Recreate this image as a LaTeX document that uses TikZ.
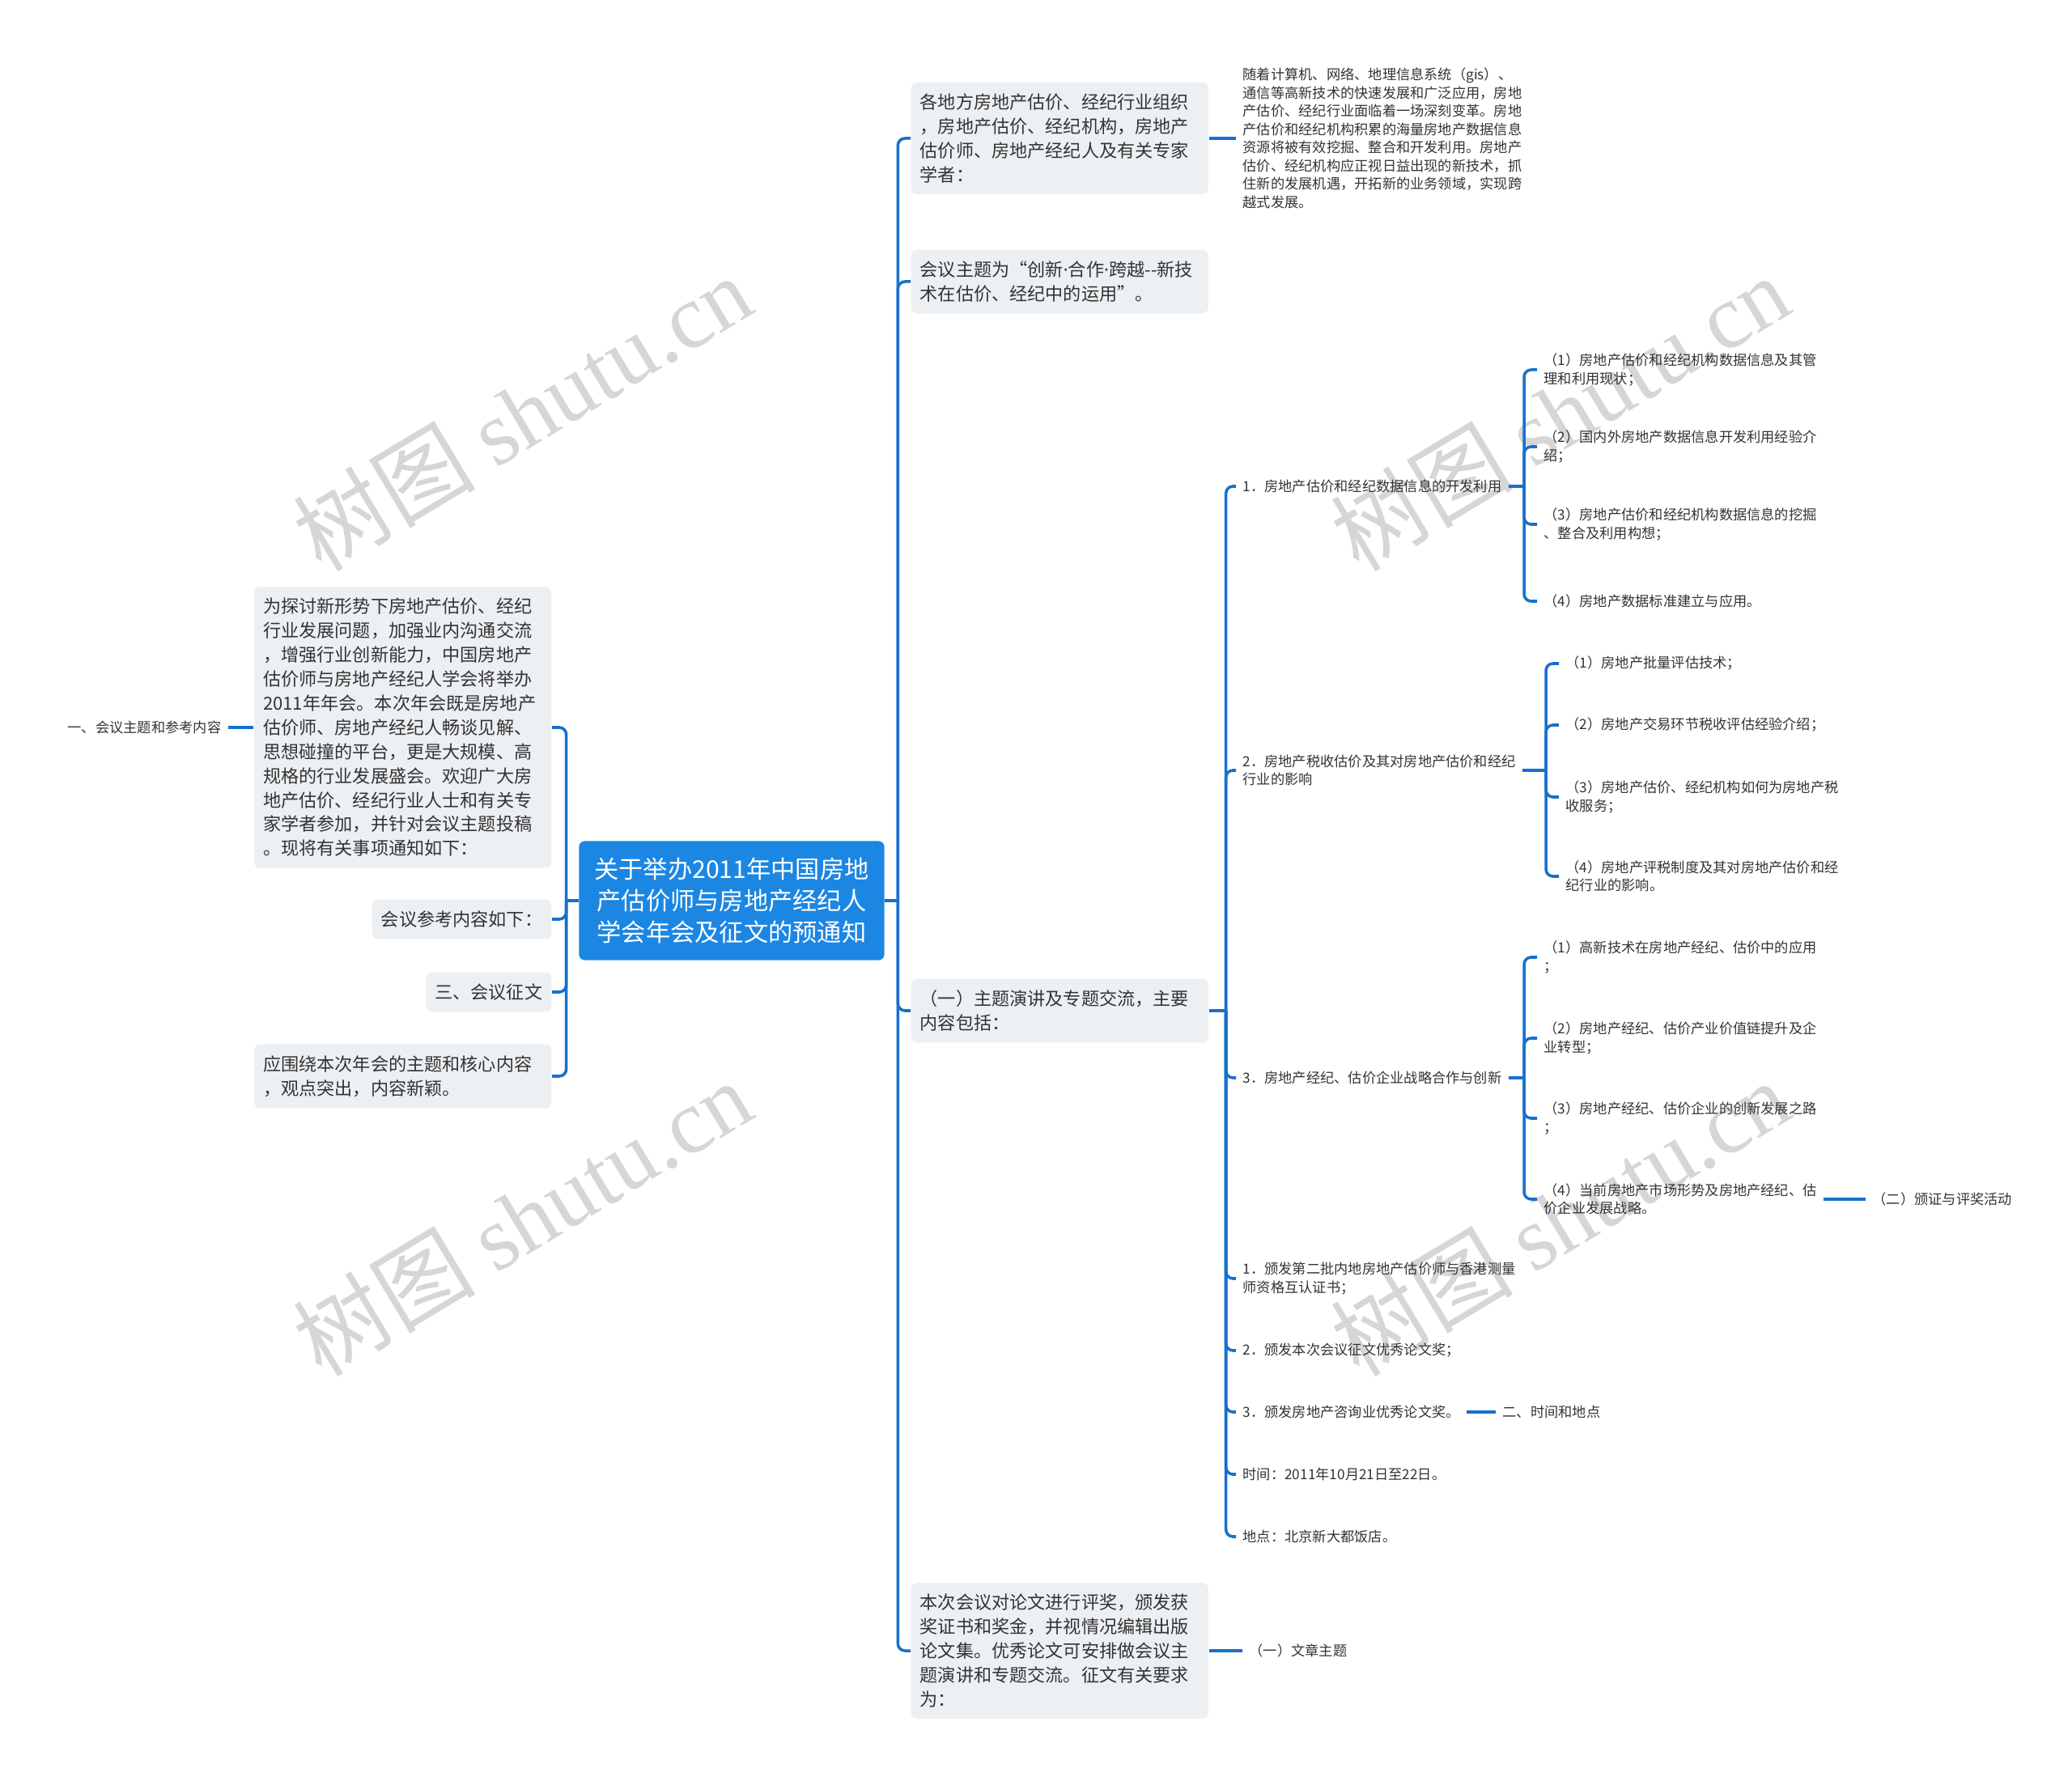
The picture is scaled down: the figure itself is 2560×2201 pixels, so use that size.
\documentclass[tikz,border=0pt]{standalone}
\usepackage{fontspec}
\setmainfont{Noto Sans CJK SC}
\newfontfamily\wmlatin{Liberation Serif}
\newfontfamily\latinsans{Noto Sans}
\definecolor{rootblue}{HTML}{1C86E3}
\definecolor{lineblue}{HTML}{1770CC}
\definecolor{boxgray}{HTML}{EDF0F3}
\definecolor{textgray}{HTML}{333333}
\definecolor{wmgray}{HTML}{D6D6D6}
\newcommand{\middot}{{\latinsans ·}}
\tikzset{
  rootnode/.style={fill=rootblue,text=white,rounded corners=2pt,align=center,
    font=\fontsize{8.6}{11.1}\selectfont,minimum width=3.77cm,minimum height=1.47cm},
  topic/.style={fill=boxgray,text=textgray,rounded corners=2pt,align=left,
    inner xsep=0.11cm,inner ysep=0.14cm,font=\fontsize{6.3}{8.5}\selectfont},
  widetopic/.style={topic,text width=3.45cm},
  leaf/.style={text=textgray,align=left,inner xsep=0.08cm,inner ysep=0.04cm,
    font=\fontsize{4.9}{6.4}\selectfont},
  branch/.style={draw=lineblue,line width=1pt,rounded corners=2.5pt},
  wmark/.style={text=wmgray,rotate=31,font=\fontsize{32}{32}\selectfont}
}

\begin{document}
\begin{tikzpicture}[x=0.01cm,y=-0.01cm]
  \fill[white] (0,0) rectangle (2560,2201);
  \useasboundingbox (0,0) rectangle (2560,2201);
  % watermarks
  \node[wmark] (wm1) at (645,510) {树图 {\wmlatin shutu.cn}};
  \node[wmark] (wm2) at (1927,510) {树图 {\wmlatin shutu.cn}};
  \node[wmark] (wm3) at (645,1505) {树图 {\wmlatin shutu.cn}};
  \node[wmark] (wm4) at (1927,1505) {树图 {\wmlatin shutu.cn}};

  \node[rootnode] (root) at (904,1113) {关于举办2011年中国房地\\产估价师与房地产经纪人\\学会年会及征文的预通知};

  % left side
  \node[widetopic,anchor=east] (ta) at (682,899) {为探讨新形势下房地产估价、经纪\\行业发展问题，加强业内沟通交流\\，增强行业创新能力，中国房地产\\估价师与房地产经纪人学会将举办\\2011年年会。本次年会既是房地产\\估价师、房地产经纪人畅谈见解、\\思想碰撞的平台，更是大规模、高\\规格的行业发展盛会。欢迎广大房\\地产估价、经纪行业人士和有关专\\家学者参加，并针对会议主题投稿\\。现将有关事项通知如下：};
  \node[topic,anchor=east] (tb) at (682,1136) {会议参考内容如下：};
  \node[topic,anchor=east] (tc) at (682,1226) {三、会议征文};
  \node[widetopic,anchor=east] (td) at (682,1330) {应围绕本次年会的主题和核心内容\\，观点突出，内容新颖。};
  \node[leaf,anchor=east] (ll) at (282,899) {一、会议主题和参考内容};

  % right side
  \node[widetopic,anchor=west] (te) at (1125,171) {各地方房地产估价、经纪行业组织\\，房地产估价、经纪机构，房地产\\估价师、房地产经纪人及有关专家\\学者：};
  \node[widetopic,anchor=west] (tf) at (1125,348) {会议主题为“创新\middot 合作\middot 跨越-{}-新技\\术在估价、经纪中的运用”。};
  \node[widetopic,anchor=west] (tg) at (1125,1249) {（一）主题演讲及专题交流，主要\\内容包括：};
  \node[widetopic,anchor=west] (th) at (1125,2040) {本次会议对论文进行评奖，颁发获\\奖证书和奖金，并视情况编辑出版\\论文集。优秀论文可安排做会议主\\题演讲和专题交流。征文有关要求\\为：};
  \node[leaf,anchor=west] (te1) at (1527,171) {随着计算机、网络、地理信息系统（gis）、\\通信等高新技术的快速发展和广泛应用，房地\\产估价、经纪行业面临着一场深刻变革。房地\\产估价和经纪机构积累的海量房地产数据信息\\资源将被有效挖掘、整合和开发利用。房地产\\估价、经纪机构应正视日益出现的新技术，抓\\住新的发展机遇，开拓新的业务领域，实现跨\\越式发展。};
  \node[leaf,anchor=west] (th1) at (1535,2040) {（一）文章主题};

  % topics under (yi)
  \node[leaf,anchor=west] (g1) at (1527,601) {1．房地产估价和经纪数据信息的开发利用};
  \node[leaf,anchor=west] (g2) at (1527,952) {2．房地产税收估价及其对房地产估价和经纪\\行业的影响};
  \node[leaf,anchor=west] (g3) at (1527,1332) {3．房地产经纪、估价企业战略合作与创新};
  \node[leaf,anchor=west] (g4) at (1527,1580) {1．颁发第二批内地房地产估价师与香港测量\\师资格互认证书；};
  \node[leaf,anchor=west] (g5) at (1527,1669) {2．颁发本次会议征文优秀论文奖；};
  \node[leaf,anchor=west] (g6) at (1527,1745) {3．颁发房地产咨询业优秀论文奖。};
  \node[leaf,anchor=west] (g7) at (1527,1822) {时间：2011年10月21日至22日。};
  \node[leaf,anchor=west] (g8) at (1527,1899) {地点：北京新大都饭店。};
  \node[leaf,anchor=west] (g6a) at (1848,1745) {二、时间和地点};

  \node[leaf,anchor=west] (g1a) at (1899,457) {（1）房地产估价和经纪机构数据信息及其管\\理和利用现状；};
  \node[leaf,anchor=west] (g1b) at (1899,552) {（2）国内外房地产数据信息开发利用经验介\\绍；};
  \node[leaf,anchor=west] (g1c) at (1899,648) {（3）房地产估价和经纪机构数据信息的挖掘\\、整合及利用构想；};
  \node[leaf,anchor=west] (g1d) at (1899,743) {（4）房地产数据标准建立与应用。};

  \node[leaf,anchor=west] (g2a) at (1926,820) {（1）房地产批量评估技术；};
  \node[leaf,anchor=west] (g2b) at (1926,896) {（2）房地产交易环节税收评估经验介绍；};
  \node[leaf,anchor=west] (g2c) at (1926,985) {（3）房地产估价、经纪机构如何为房地产税\\收服务；};
  \node[leaf,anchor=west] (g2d) at (1926,1083) {（4）房地产评税制度及其对房地产估价和经\\纪行业的影响。};

  \node[leaf,anchor=west] (g3a) at (1899,1183) {（1）高新技术在房地产经纪、估价中的应用\\；};
  \node[leaf,anchor=west] (g3b) at (1899,1283) {（2）房地产经纪、估价产业价值链提升及企\\业转型；};
  \node[leaf,anchor=west] (g3c) at (1899,1382) {（3）房地产经纪、估价企业的创新发展之路\\；};
  \node[leaf,anchor=west] (g3d) at (1899,1482) {（4）当前房地产市场形势及房地产经纪、估\\价企业发展战略。};
  \node[leaf,anchor=west] (g3e) at (2305,1482) {（二）颁证与评奖活动};

  % connectors
  \coordinate (lbus) at ([xshift=-0.15cm]root.west);
  \coordinate (rbus) at ([xshift=0.16cm]root.east);
  \coordinate (gbus) at ([xshift=0.21cm]tg.east);
  \coordinate (g1bus) at (1883,601);
  \coordinate (g2bus) at (1910,952);
  \coordinate (g3bus) at (1883,1332);
  \draw[branch] (root.west) -- (lbus);
  \foreach \n in {ta,tb,tc,td} \draw[branch] (lbus) |- (\n.east);
  \draw[branch] (ll.east) -- (ta.west);
  \draw[branch] (root.east) -- (rbus);
  \foreach \n in {te,tf,tg,th} \draw[branch] (rbus) |- (\n.west);
  \draw[branch] (te.east) -- (te1.west);
  \draw[branch] (th.east) -- (th1.west);
  \draw[branch] (tg.east) -- (gbus);
  \foreach \n in {g1,g2,g3,g4,g5,g6,g7,g8} \draw[branch] (gbus) |- (\n.west);
  \draw[branch] (g6.east) -- (g6a.west);
  \draw[branch] (g1.east) -- (g1bus);
  \foreach \n in {g1a,g1b,g1c,g1d} \draw[branch] (g1bus) |- (\n.west);
  \draw[branch] (g2.east) -- (g2bus);
  \foreach \n in {g2a,g2b,g2c,g2d} \draw[branch] (g2bus) |- (\n.west);
  \draw[branch] (g3.east) -- (g3bus);
  \foreach \n in {g3a,g3b,g3c,g3d} \draw[branch] (g3bus) |- (\n.west);
  \draw[branch] (g3d.east) -- (g3e.west);
\end{tikzpicture}
\end{document}
